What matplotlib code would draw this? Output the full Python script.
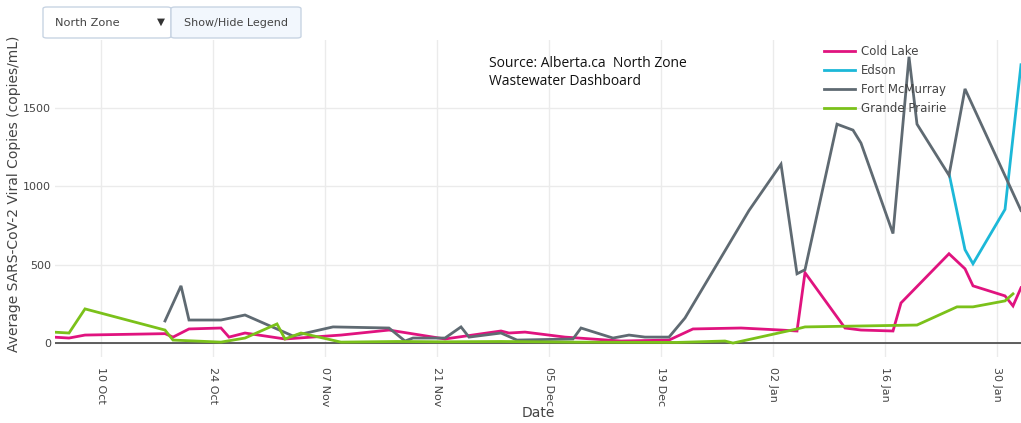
import matplotlib
matplotlib.use("Agg")
import matplotlib.pyplot as plt
from matplotlib.patches import FancyBboxPatch
import pandas as pd

plt.rcParams['font.family'] = ['DejaVu Sans']

# ---------------- data ----------------
cold_lake_dates = ["2021-10-04", "2021-10-06", "2021-10-08", "2021-10-18", "2021-10-19", "2021-10-21",
                   "2021-10-25", "2021-10-26", "2021-10-28", "2021-11-02", "2021-11-09", "2021-11-15",
                   "2021-11-22", "2021-11-29", "2021-11-30", "2021-12-02", "2021-12-07", "2021-12-14",
                   "2021-12-20", "2021-12-23", "2021-12-29", "2022-01-03", "2022-01-05", "2022-01-06",
                   "2022-01-11", "2022-01-13", "2022-01-17", "2022-01-18", "2022-01-24", "2022-01-26",
                   "2022-01-27", "2022-01-31", "2022-02-01", "2022-02-02"]
cold_lake_vals = [38, 32, 51, 60, 38, 90, 96, 38, 64, 26, 51, 83, 26, 77, 64, 70, 38, 13,
                  19, 90, 96, 83, 77, 449, 96, 83, 77, 256, 570, 474, 365, 301, 237, 353]

edson_dates = ["2022-01-24", "2022-01-26", "2022-01-27", "2022-01-31", "2022-02-02"]
edson_vals = [1083, 596, 506, 853, 1776]

fort_mcmurray_dates = ["2021-10-18", "2021-10-20", "2021-10-21", "2021-10-25", "2021-10-28", "2021-11-03",
                       "2021-11-08", "2021-11-15", "2021-11-17", "2021-11-18", "2021-11-22", "2021-11-24",
                       "2021-11-25", "2021-11-29", "2021-12-01", "2021-12-08", "2021-12-09", "2021-12-13",
                       "2021-12-15", "2021-12-17", "2021-12-20", "2021-12-22", "2021-12-30", "2022-01-03",
                       "2022-01-05", "2022-01-06", "2022-01-10", "2022-01-12", "2022-01-13", "2022-01-17",
                       "2022-01-19", "2022-01-20", "2022-01-24", "2022-01-26", "2022-02-02"]
fort_mcmurray_vals = [141, 365, 147, 147, 179, 45, 103, 96, 13, 32, 32, 103, 38, 64, 19, 26, 96, 32,
                      51, 38, 38, 160, 846, 1141, 442, 468, 1397, 1359, 1276, 699, 1827, 1397, 1071,
                      1622, 846]

grande_prairie_dates = ["2021-10-04", "2021-10-06", "2021-10-08", "2021-10-18", "2021-10-19", "2021-10-25",
                        "2021-10-28", "2021-11-01", "2021-11-02", "2021-11-04", "2021-11-09", "2021-11-16",
                        "2021-11-22", "2021-11-29", "2021-12-08", "2021-12-14", "2021-12-21", "2021-12-27",
                        "2021-12-28", "2022-01-05", "2022-01-06", "2022-01-13", "2022-01-20", "2022-01-25",
                        "2022-01-27", "2022-01-31", "2022-02-01"]
grande_prairie_vals = [70, 64, 218, 83, 19, 6, 32, 122, 26, 64, 6, 10, 8, 10, 6, 5, 4, 13,
                       0, 90, 103, 109, 115, 231, 231, 269, 314]

series_names = ["Cold Lake", "Edson", "Fort McMurray", "Grande Prairie"]
series_colors = ["#e0137f", "#1cb8d8", "#5f6a72", "#7bc11a"]

tick_dates = ["2021-10-10", "2021-10-24", "2021-11-07", "2021-11-21", "2021-12-05",
              "2021-12-19", "2022-01-02", "2022-01-16", "2022-01-30"]
tick_labels = ["10 Oct", "24 Oct", "07 Nov", "21 Nov", "05 Dec", "19 Dec", "02 Jan", "16 Jan", "30 Jan"]
y_ticks = [0, 500, 1000, 1500]

# ---------------- figure ----------------
W, H = 1021, 423
fig = plt.figure(figsize=(W / 100, H / 100), dpi=100)
ax = fig.add_axes([55 / W, 1 - 357 / H, (W - 55) / W, (357 - 40) / H])

all_series = [(cold_lake_dates, cold_lake_vals), (edson_dates, edson_vals),
              (fort_mcmurray_dates, fort_mcmurray_vals), (grande_prairie_dates, grande_prairie_vals)]

for s in ax.spines.values():
    s.set_visible(False)
ax.grid(True, color="#ebebeb", linewidth=1)
ax.set_axisbelow(True)
ax.axhline(0, color="#444444", linewidth=1.2, zorder=1)

for (d, v), name, col in zip(all_series, series_names, series_colors):
    ax.plot(pd.to_datetime(d), v, color=col, linewidth=2, label=name, zorder=3,
            solid_joinstyle="miter")

ax.set_xlim(pd.Timestamp("2021-10-04 06:00"), pd.Timestamp("2022-02-02"))
ax.set_ylim(-89, 1934)
ax.set_xticks(pd.to_datetime(tick_dates))
ax.set_xticklabels(tick_labels, rotation=-90, fontsize=8, color="#444444")
ax.set_yticks(y_ticks)
ax.set_yticklabels([str(t) for t in y_ticks], fontsize=8, color="#444444")
ax.tick_params(axis="both", length=0, pad=3)
ax.tick_params(axis="x", pad=7)

ax.set_xlabel("Date", fontsize=10, color="#444444")
ax.xaxis.set_label_coords(0.5, -(413 - 357) / 317)
ax.xaxis.label.set_va("center")
ax.set_ylabel("Average SARS-CoV-2 Viral Copies (copies/mL)", fontsize=10, color="#444444")
ax.yaxis.set_label_coords(-(55 - 14) / (W - 55), (357 - 194) / 317)
ax.yaxis.label.set_va("center")

leg = ax.legend(loc="upper left", bbox_to_anchor=((824 - 55) / (W - 55), 1 - 5 / 317),
                frameon=False, fontsize=8.5, handlelength=2.6, handletextpad=0.55,
                labelspacing=0.5, borderaxespad=0, borderpad=0)
for t in leg.get_texts():
    t.set_color("#444444")

fig.text(489 / W, 1 - 56 / H, "Source: Alberta.ca  North Zone\nWastewater Dashboard",
         fontsize=10, family="Open Sans", color="#111111", va="top", ha="left", linespacing=1.3)

# widgets
fig.patches.append(FancyBboxPatch((43 / W, 1 - 38 / H), 128 / W, 31 / H,
                                  boxstyle="round,pad=0,rounding_size=0.004",
                                  transform=fig.transFigure, facecolor="white",
                                  edgecolor="#c8d4e3", linewidth=1))
fig.patches.append(FancyBboxPatch((171 / W, 1 - 38 / H), 130 / W, 31 / H,
                                  boxstyle="round,pad=0,rounding_size=0.004",
                                  transform=fig.transFigure, facecolor="#f2f7fd",
                                  edgecolor="#c8d4e3", linewidth=1))
fig.text(55 / W, 1 - 23 / H, "North Zone", fontsize=8.2, color="#444444", va="center", ha="left")
fig.text(161 / W, 1 - 22 / H, "\u25bc", fontsize=7.5, color="#333333", va="center", ha="center")
fig.text(236 / W, 1 - 23 / H, "Show/Hide Legend", fontsize=8, color="#444444", va="center", ha="center")

fig.savefig("out.png", dpi=100)
